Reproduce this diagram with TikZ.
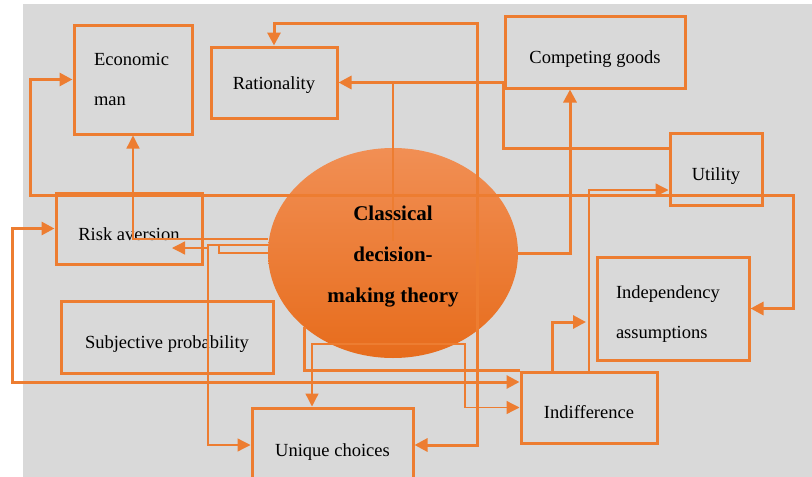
\documentclass[tikz,border=0pt]{standalone}
\usepackage{fontspec}
\setmainfont{Liberation Serif}
\usetikzlibrary{arrows.meta,shapes.geometric}
\definecolor{orng}{RGB}{237,125,49}
\definecolor{bgg}{RGB}{217,217,217}
\definecolor{elltop}{RGB}{241,143,84}
\definecolor{ellbot}{RGB}{231,108,28}
\newcommand\lblfont{\fontsize{18.5}{40}\selectfont}
\newcommand\ellfont{\fontsize{21}{41}\selectfont\bfseries}
\begin{document}
\begin{tikzpicture}[x=1pt,y=-1pt,
  cbox/.style={draw=orng,line width=3pt,fill=bgg,inner sep=0pt,font=\lblfont},
  low/.style={text height=#1,text depth=0pt},
  low/.default=22pt,
  conn/.style={draw=orng,line width=3pt},
  tconn/.style={draw=orng,line width=1.3pt},
  ar/.style={-{Triangle[length=13pt,width=13pt]}},
  rar/.style={{Triangle[length=13pt,width=13pt]}-{Triangle[length=13pt,width=13pt]}}]
\useasboundingbox (0,0) rectangle (812,477);
\fill[bgg] (23,4) rectangle (812,477);
% boxes
\node[cbox,minimum width=118pt,minimum height=109pt,text width=78pt,align=left] (eco) at (133,79.5) {Economic\\man};
\node[cbox,low=13pt,minimum width=126pt,minimum height=71pt] (rat) at (274,82.5) {Rationality};
\node[cbox,low,minimum width=180pt,minimum height=72pt] (comp) at (595,52) {Competing goods};
\node[cbox,low,minimum width=92pt,minimum height=72pt] (util) at (716,169) {Utility};
\node[cbox,low=24pt,minimum width=146pt,minimum height=71pt] (risk) at (129,228.5) {Risk aversion};
\node[cbox,low,minimum width=212pt,minimum height=72pt] (subj) at (167,337) {Subjective probability};
\node[cbox,low,minimum width=161pt,minimum height=74pt] (uniq) at (332.5,445) {Unique choices};
\node[cbox,low,minimum width=136pt,minimum height=71pt] (indif) at (589,407.5) {Indifference};
\node[cbox,minimum width=152pt,minimum height=103pt,text width=114pt,align=left] (indep) at (673,308.5) {\rule{0pt}{23pt}Independency\\assumptions};
% central ellipse
\node[ellipse,minimum width=250pt,minimum height=210pt,inner sep=0pt,draw=none,top color=elltop,bottom color=ellbot] (ell) at (393,253) {};
% connectors
\draw[conn,rar] (uniq.east) -| (477,23) -| (rat.north);
\draw[conn,ar] ([yshift=21pt]util.west) -| (comp.west |- rat.east) -- (rat.east);
\draw[tconn] ([yshift=12pt]ell.center) -- (ell.center |- rat.east);
\draw[conn,rar] (indep.east) -| (793,195) -- (30,195) |- (eco.west);
\draw[conn,ar] (ell.east) -| ([xshift=-25pt]comp.south);
\draw[tconn,ar] (indif.north) |- ([yshift=-21pt]util.west);
\coordinate (indend) at (586,322);
\draw[conn,ar] ([xshift=-37pt]indif.north) |- (indend);
\draw[conn] (ell.220) |- (indif.north west);
\draw[conn,rar] (risk.west) -| (12,382) -- ([yshift=25.5pt]indif.west);
\draw[tconn,rar] ([xshift=-20.5pt]uniq.north) |- (465,344) |- (indif.west);
\draw[tconn,ar] ([yshift=14pt]ell.west) -| (eco.south);
\draw[tconn,ar] ([yshift=8pt]ell.west) -| (208,445) -- (uniq.west);
\coordinate (riskin) at (172,248);
\draw[tconn,ar] (208,248) -- (riskin);
\draw[tconn] (ell.west) -- (219,253) -- (219,245);
% ellipse text
\node[font=\ellfont,align=center,inner sep=0pt] (elltxt) at (393,257) {Classical\\decision-\\making theory};
\end{tikzpicture}
\end{document}
